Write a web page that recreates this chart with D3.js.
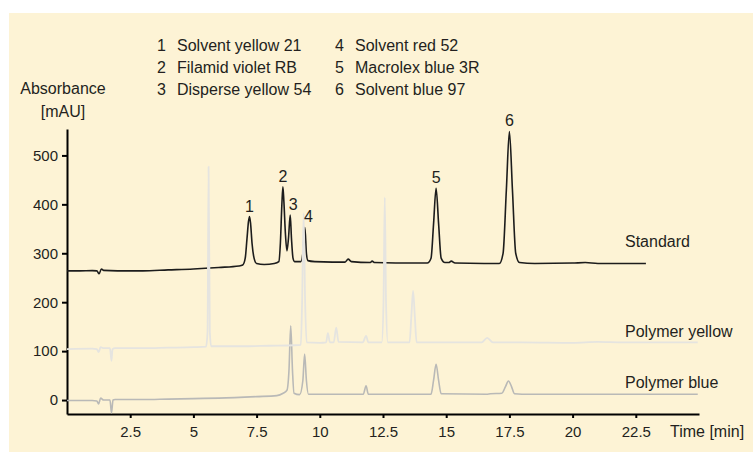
<!DOCTYPE html>
<html>
<head>
<meta charset="utf-8">
<script src="https://cdn.jsdelivr.net/npm/d3@7"></script>
<style>
  body { margin: 0; background: #fff; }
  svg { display: block; font-family: "Liberation Sans", Arial, sans-serif; }
</style>
</head>
<body>
<script>
// peak names shown in the key
const peakNames = [
  "Solvent yellow 21", "Filamid violet RB", "Disperse yellow 54",
  "Solvent red 52", "Macrolex blue 3R", "Solvent blue 97"
];
// [time min, absorbance mAU]
const standard = [
  [0, 264], [0.5, 264], [1.0, 264.5], [1.18, 264], [1.27, 258], [1.36, 268], [1.45, 265],
  [2.0, 264], [3.0, 264], [4.0, 266], [5.0, 268], [6.0, 271], [6.8, 274], [6.95, 276],
  [7.05, 290], [7.12, 330], [7.18, 365], [7.22, 375], [7.26, 362], [7.32, 320], [7.4, 290],
  [7.5, 279], [7.8, 277], [8.2, 279], [8.38, 283], [8.44, 320], [8.5, 400], [8.54, 436],
  [8.58, 405], [8.64, 340], [8.7, 305], [8.76, 330], [8.83, 378], [8.88, 330], [8.94, 290],
  [9.0, 283], [9.25, 283], [9.33, 300], [9.41, 353], [9.47, 300], [9.53, 285], [9.8, 283],
  [10.5, 282], [11.0, 282], [11.12, 288], [11.25, 283], [12.0, 281], [12.07, 284], [12.17, 281],
  [13.0, 280], [14.25, 280], [14.4, 290], [14.5, 360], [14.6, 433], [14.7, 360], [14.8, 290],
  [14.95, 281], [15.1, 281], [15.2, 284], [15.35, 280], [16.5, 279], [17.1, 279], [17.25, 300],
  [17.38, 430], [17.5, 549], [17.62, 430], [17.75, 300], [17.9, 281], [18.5, 279], [20, 280],
  [20.5, 281], [21, 279], [22.9, 279]
];
const polymerYellow = [
  [0, 104], [1.0, 105], [1.18, 104], [1.25, 98], [1.33, 108], [1.45, 106], [1.7, 106],
  [1.76, 80], [1.8, 104], [1.9, 106], [3, 106], [4, 107], [5, 108], [5.5, 109], [5.56, 140],
  [5.6, 477], [5.65, 140], [5.7, 110], [7, 110], [8, 111], [9.0, 112], [9.25, 113], [9.3, 200],
  [9.36, 382], [9.42, 200], [9.48, 118], [10, 117], [10.25, 118], [10.32, 137], [10.4, 118],
  [10.55, 118], [10.65, 148], [10.74, 119], [11.7, 118], [11.83, 131], [11.92, 118],
  [12.45, 118], [12.52, 200], [12.57, 414], [12.62, 200], [12.69, 118], [13.55, 118],
  [13.62, 170], [13.69, 223], [13.76, 170], [13.83, 118], [16.4, 118], [16.62, 127],
  [16.85, 118], [18, 118], [20, 117], [21, 119], [22, 118], [24.95, 118]
];
const polymerBlue = [
  [0, -1], [1.0, -1], [1.18, -2], [1.25, -8], [1.33, 4], [1.45, 0], [1.7, 0], [1.76, -26],
  [1.82, 0], [1.9, 1], [3, 1], [4, 2], [5, 3], [6, 4], [7.5, 7], [8.3, 9], [8.55, 14],
  [8.7, 20], [8.78, 60], [8.85, 152], [8.92, 60], [8.98, 14], [9.2, 11], [9.33, 40], [9.4, 94],
  [9.47, 40], [9.55, 12], [10.5, 12], [11.72, 12], [11.83, 29], [11.92, 12], [13, 12],
  [14.4, 12], [14.5, 40], [14.6, 73], [14.7, 40], [14.8, 13], [16.6, 12], [16.75, 13],
  [17.2, 14], [17.35, 28], [17.46, 39], [17.58, 28], [17.7, 13], [18, 12], [24.95, 12]
];
// numbered peaks on the standard trace: [number, time, height]
const peakLabels = [[1, 7.22, 375], [2, 8.54, 436], [3, 8.95, 378], [4, 9.55, 353], [5, 14.6, 433], [6, 17.5, 549]];
const xTicks = [2.5, 5, 7.5, 10, 12.5, 15, 17.5, 20, 22.5];
const yTicks = [0, 100, 200, 300, 400, 500];

const width = 753, height = 452;
const ink = "#231f20";

let svg = d3.select("body")
  .append("svg")
  .attr("width", width)
  .attr("height", height);

// cream panel
svg.append("rect")
  .attr("x", 9)
  .attr("y", 13)
  .attr("width", width - 9)
  .attr("height", height - 13)
  .attr("fill", "#fdf3d5");

let x = d3.scaleLinear().domain([0, 25]).range([67, 699]);
let y = d3.scaleLinear().domain([-28.5, 554]).range([414, 129]);

// axes
let yAxis = svg.append("g")
  .attr("transform", "translate(67,0)")
  .call(d3.axisLeft(y).tickValues(yTicks).tickSize(5).tickSizeOuter(0).tickPadding(4));
let xAxis = svg.append("g")
  .attr("transform", "translate(0,414)")
  .call(d3.axisBottom(x).tickValues(xTicks).tickSize(4).tickSizeOuter(0).tickPadding(8)
    .tickFormat(d => d));

[xAxis, yAxis].forEach(a => {
  a.select(".domain").attr("stroke", "#000").attr("stroke-width", 2);
  a.selectAll(".tick line").attr("stroke", "#000").attr("stroke-width", 2);
  a.selectAll(".tick text")
    .attr("fill", ink)
    .attr("font-size", 15)
    .attr("font-family", "Liberation Sans, Arial, sans-serif");
});

// traces
let line = d3.line()
  .x(d => x(d[0]))
  .y(d => y(d[1]))
  .curve(d3.curveMonotoneX);

let traces = [
  { data: polymerBlue, color: "#b9b9b7", w: 1.6 },
  { data: standard, color: "#1c1c1c", w: 1.6 },
  { data: polymerYellow, color: "#e5e4e0", w: 1.8 }
];
traces.forEach(t => {
  svg.append("path")
    .attr("d", line(t.data))
    .attr("fill", "none")
    .attr("stroke", t.color)
    .attr("stroke-width", t.w)
    .attr("stroke-linejoin", "round");
});

// peak numbers
svg.selectAll(".peak")
  .data(peakLabels)
  .enter()
  .append("text")
  .attr("class", "peak")
  .attr("x", d => x(d[1]))
  .attr("y", d => y(d[2]) - 5)
  .attr("text-anchor", "middle")
  .attr("font-size", 16)
  .attr("fill", ink)
  .text(d => d[0]);

// trace names
let traceNames = [["Standard", 279, 247], ["Polymer yellow", 118, 337], ["Polymer blue", 12, 388]];
svg.selectAll(".tname")
  .data(traceNames)
  .enter()
  .append("text")
  .attr("class", "tname")
  .attr("x", 625)
  .attr("y", d => d[2])
  .attr("font-size", 16)
  .attr("fill", ink)
  .text(d => d[0]);

// key
let key = svg.append("g").attr("font-size", 16).attr("fill", ink);
peakNames.forEach((name, i) => {
  let col = Math.floor(i / 3), row = i % 3;
  let kx = col === 0 ? 157 : 335;
  let ky = 51 + row * 22;
  key.append("text").attr("x", kx).attr("y", ky).text(i + 1);
  key.append("text").attr("x", kx + 20).attr("y", ky).text(name);
});

// axis titles
svg.append("text")
  .attr("x", 63).attr("y", 94)
  .attr("text-anchor", "middle")
  .attr("font-size", 16).attr("fill", ink)
  .text("Absorbance");
svg.append("text")
  .attr("x", 63).attr("y", 117)
  .attr("text-anchor", "middle")
  .attr("font-size", 16).attr("fill", ink)
  .text("[mAU]");
svg.append("text")
  .attr("x", 670).attr("y", 437)
  .attr("font-size", 16).attr("fill", ink)
  .text("Time [min]");
</script>
</body>
</html>
